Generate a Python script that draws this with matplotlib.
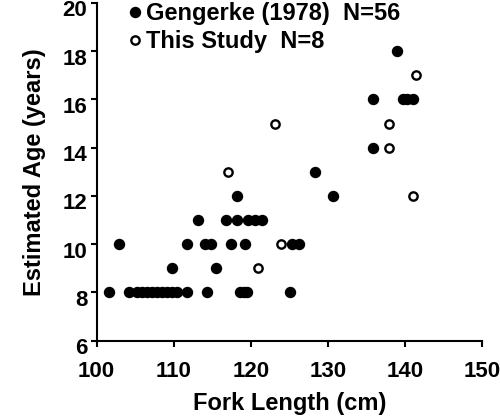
import matplotlib
matplotlib.use("Agg")
import matplotlib.pyplot as plt
from matplotlib.transforms import ScaledTranslation

# Gengerke (1978), filled circles: fork length (cm), estimated age (years)
geng_len = [101.6, 104.2, 105.3, 105.9, 106.6, 107.2, 107.9, 108.5, 109.2, 109.8, 110.5, 111.7,
            114.3, 118.6, 119.1, 119.5, 125.1,
            109.8, 115.5,
            102.9, 111.7, 114.1, 114.8, 117.4, 119.3, 125.4, 126.2,
            113.1, 116.8, 118.2, 119.7, 120.6, 121.5,
            118.2, 130.7,
            128.4,
            135.9,
            135.9, 139.7, 140.3, 141.1,
            139.0]
geng_age = [8, 8, 8, 8, 8, 8, 8, 8, 8, 8, 8, 8,
            8, 8, 8, 8, 8,
            9, 9,
            10, 10, 10, 10, 10, 10, 10, 10,
            11, 11, 11, 11, 11, 11,
            12, 12,
            13,
            14,
            16, 16, 16, 16,
            18]

# This study, open circles
study_len = [121.0, 123.9, 117.0, 123.2, 138.0, 137.9, 141.0, 141.5]
study_age = [9, 10, 13, 15, 15, 14, 12, 17]

x_ticks = [100, 110, 120, 130, 140, 150]
y_ticks = [6, 8, 10, 12, 14, 16, 18, 20]

plt.rcParams["font.family"] = ["Liberation Sans", "DejaVu Sans"]
plt.rcParams["font.weight"] = "bold"

fig = plt.figure(figsize=(5.0, 4.19), dpi=100)
ax = fig.add_axes([0.193, 0.187, 0.771, 0.806])

ax.plot(geng_len, geng_age, "o", color="black", ms=7.2, mec="black", ls="none",
        label="Gengerke (1978)  N=56", clip_on=False)
ax.plot(study_len, study_age, "o", mfc="white", mec="black", mew=1.7, ms=6.0, ls="none",
        label="This Study  N=8", clip_on=False)

ax.set_xlim(100, 150)
ax.set_ylim(6, 20)
ax.set_xticks(x_ticks)
ax.set_yticks(y_ticks)
ax.spines["top"].set_visible(False)
ax.spines["right"].set_visible(False)
for s in ("left", "bottom"):
    ax.spines[s].set_linewidth(1.5)
ax.tick_params(direction="out", length=4.5, width=1.5, labelsize=16)
ax.tick_params(axis="x", pad=10)
ax.tick_params(axis="y", pad=2)
# y labels sit a little below their ticks in the original
shift = ScaledTranslation(0, -4 / 72, fig.dpi_scale_trans)
for lab in ax.get_yticklabels():
    lab.set_transform(lab.get_transform() + shift)
for lab in ax.get_xticklabels() + ax.get_yticklabels():
    lab.set_fontweight("bold")

ax.set_xlabel("Fork Length (cm)", fontsize=17, fontweight="bold", labelpad=7)
ax.set_ylabel("Estimated Age (years)", fontsize=17, fontweight="bold", labelpad=12)

ax.legend(loc="upper left", bbox_to_anchor=(0.06, 1.03), frameon=False,
          handlelength=0.5, handletextpad=0.2, labelspacing=0.22, borderaxespad=0,
          prop={"size": 17, "weight": "bold"})

fig.savefig("out.png", dpi=100)
